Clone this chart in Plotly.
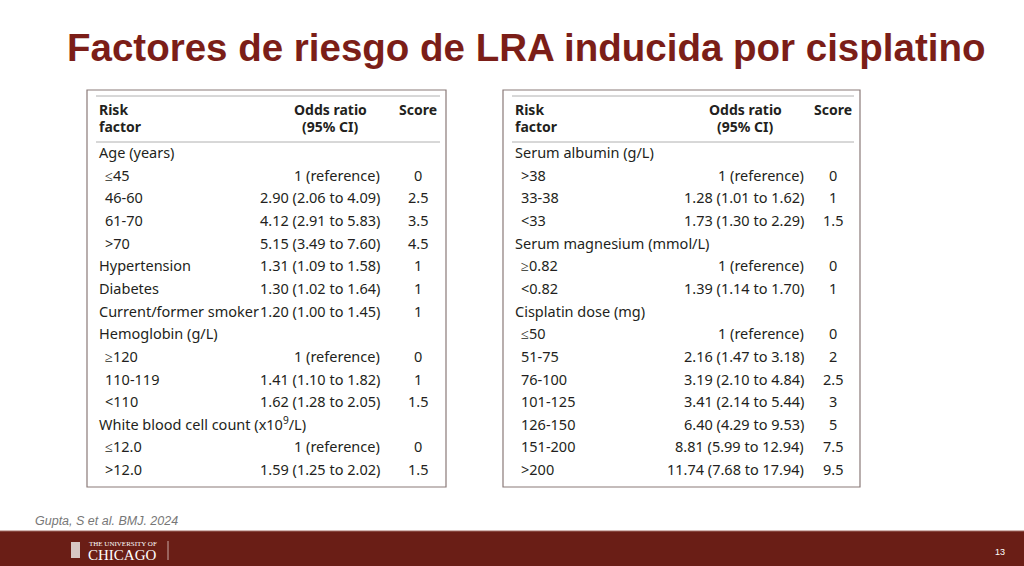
import plotly.graph_objects as go

title = "Factores de riesgo de LRA inducida por cisplatino"
left_factors = ["Age (years)", "≤45", "46-60", "61-70", ">70", "Hypertension", "Diabetes",
                "Current/former smoker", "Hemoglobin (g/L)", "≥120", "110-119", "<110",
                "White blood cell count (x10<sup>9</sup>/L)", "≤12.0", ">12.0"]
left_indent = [0, 1, 1, 1, 1, 0, 0, 0, 0, 1, 1, 1, 0, 1, 1]
left_or = ["", "1 (reference)", "2.90 (2.06 to 4.09)", "4.12 (2.91 to 5.83)", "5.15 (3.49 to 7.60)",
           "1.31 (1.09 to 1.58)", "1.30 (1.02 to 1.64)", "1.20 (1.00 to 1.45)", "",
           "1 (reference)", "1.41 (1.10 to 1.82)", "1.62 (1.28 to 2.05)", "",
           "1 (reference)", "1.59 (1.25 to 2.02)"]
left_score = ["", "0", "2.5", "3.5", "4.5", "1", "1", "1", "", "0", "1", "1.5", "", "0", "1.5"]

right_factors = ["Serum albumin (g/L)", ">38", "33-38", "<33", "Serum magnesium (mmol/L)", "≥0.82", "<0.82",
                 "Cisplatin dose (mg)", "≤50", "51-75", "76-100", "101-125", "126-150", "151-200", ">200"]
right_indent = [0, 1, 1, 1, 0, 1, 1, 0, 1, 1, 1, 1, 1, 1, 1]
right_or = ["", "1 (reference)", "1.28 (1.01 to 1.62)", "1.73 (1.30 to 2.29)", "", "1 (reference)",
            "1.39 (1.14 to 1.70)", "", "1 (reference)", "2.16 (1.47 to 3.18)", "3.19 (2.10 to 4.84)",
            "3.41 (2.14 to 5.44)", "6.40 (4.29 to 9.53)", "8.81 (5.99 to 12.94)", "11.74 (7.68 to 17.94)"]
right_score = ["", "0", "1", "1.5", "", "0", "1", "", "0", "2", "2.5", "3", "5", "7.5", "9.5"]

citation = "Gupta, S et al. BMJ. 2024"
page = "13"

W, H = 1024, 566
fig = go.Figure()
fig.update_xaxes(range=[0, W], visible=False, fixedrange=True)
fig.update_yaxes(range=[H, 0], visible=False, fixedrange=True)
fig.update_layout(width=W, height=H, margin=dict(l=0, r=0, t=0, b=0),
                  plot_bgcolor="white", paper_bgcolor="white", showlegend=False)

ann = []
shapes = []
TF = "Noto Sans"
TC = "#231f20"

def A(x, y, t, size=14.5, xa="left", color=TC, font=TF, bold=False, italic=False):
    if bold:
        t = "<b>" + t + "</b>"
    if italic:
        t = "<i>" + t + "</i>"
    ann.append(dict(x=x, y=y, xref="x", yref="y", text=t, showarrow=False, xanchor=xa,
                    yanchor="middle", font=dict(size=size, color=color, family=font)))

A(526, 47, title, size=38.5, xa="center", color="#7b1e18", font="Liberation Sans", bold=True)

def table(x0, x1, factors, indent, ors, scores, or_right, or_center, score_c):
    shapes.append(dict(type="rect", x0=x0, x1=x1, y0=90, y1=487, line=dict(color="#8a7a78", width=1.2)))
    shapes.append(dict(type="line", x0=x0 + 9, x1=x1 - 6, y0=96, y1=96, line=dict(color="#b0b0b0", width=1)))
    shapes.append(dict(type="line", x0=x0 + 9, x1=x1 - 6, y0=142, y1=142, line=dict(color="#b0b0b0", width=1)))
    A(x0 + 10, 109, "Risk", size=14, bold=True)
    A(x0 + 10, 126, "factor", size=14, bold=True)
    A(or_center, 109, "Odds ratio", size=14, xa="center", bold=True)
    A(or_center, 126, "(95% CI)", size=14, xa="center", bold=True)
    A(score_c, 109, "Score", size=14, xa="center", bold=True)
    for i, (f, ind, o, s) in enumerate(zip(factors, indent, ors, scores)):
        y = 152 + i * 22.65
        A(x0 + 10 + 6 * ind, y, f)
        if o:
            A(or_right, y, o, xa="right")
        if s:
            A(score_c, y, s, xa="center")

table(87, 446, left_factors, left_indent, left_or, left_score, 382, 330, 418)
table(503, 860, right_factors, right_indent, right_or, right_score, 806, 745, 833)

A(33, 521, citation, size=12.5, color="#777777", font="Liberation Sans", italic=True)
shapes.append(dict(type="rect", x0=0, x1=W, y0=531, y1=H, fillcolor="#6a1e16", line=dict(width=0), layer="below"))
shapes.append(dict(type="line", x0=0, x1=W, y0=531, y1=531, line=dict(color="#a06a62", width=1)))
shapes.append(dict(type="rect", x0=71, x1=80, y0=542, y1=558, fillcolor="#d8c8c4", line=dict(width=0)))
A(87, 544, "THE UNIVERSITY OF", size=7, color="white", font="Liberation Serif")
A(86, 555, "CHICAGO", size=15, color="white", font="Liberation Serif")
shapes.append(dict(type="line", x0=168, x1=168, y0=541, y1=560, line=dict(color="#c9a9a4", width=1)))
A(1000, 552, page, size=9, color="white", font="Liberation Sans", xa="center")

fig.update_layout(annotations=ann, shapes=shapes)
fig.write_html("out.html", config={"displayModeBar": False})
with open("out.html", encoding="utf-8") as fh:
    html = fh.read()
html = html.replace("<head>", "<head><style>html,body{margin:0;padding:0;overflow:hidden}</style>", 1)
with open("out.html", "w", encoding="utf-8") as fh:
    fh.write(html)
